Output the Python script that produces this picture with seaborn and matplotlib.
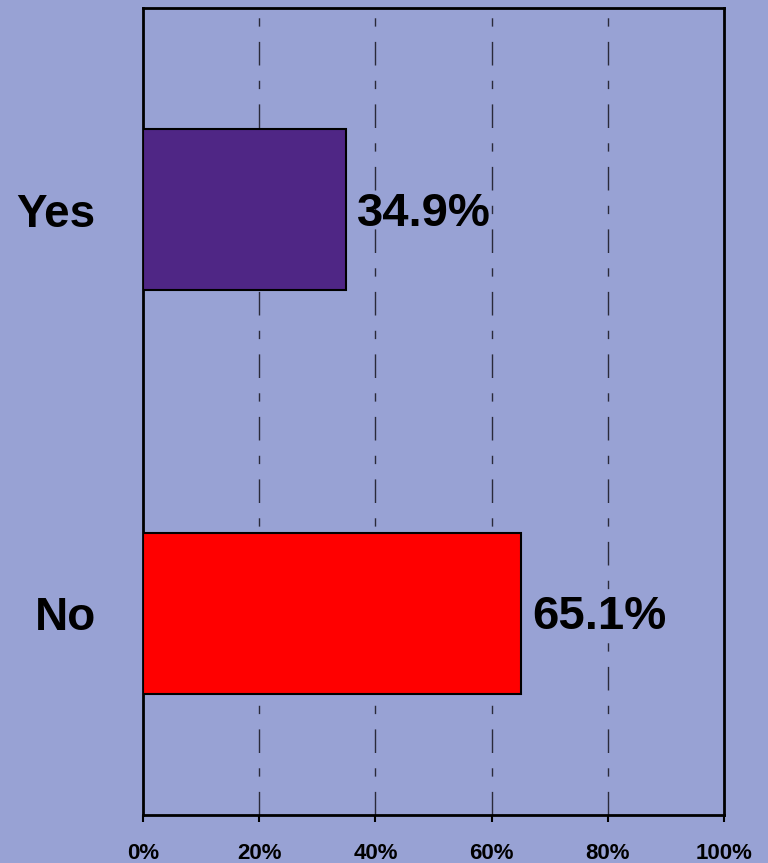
import matplotlib
matplotlib.use("Agg")
import matplotlib.pyplot as plt
import seaborn as sns
import pandas as pd
from matplotlib.ticker import FuncFormatter

categories = ["Yes", "No"]
values = [34.9, 65.1]
bar_colors = ["#4F2685", "#FF0000"]
tick_values = [0, 20, 40, 60, 80, 100]

sns.set_theme(style="ticks")
plt.rcParams["font.family"] = ["Liberation Sans", "DejaVu Sans"]
plt.rcParams["lines.scale_dashes"] = False
plt.rcParams["xtick.bottom"] = True

bg = "#98A2D4"
fig = plt.figure(figsize=(7.68, 8.63), dpi=100, facecolor=bg)
ax = fig.add_axes([143 / 768, 1 - 815 / 863, (724 - 143) / 768, (815 - 8) / 863])
ax.set_facecolor(bg)

df = pd.DataFrame({"answer": categories, "pct": values})
sns.barplot(data=df, x="pct", y="answer", hue="answer", palette=bar_colors,
            saturation=1, orient="h", width=0.4, edgecolor="black", linewidth=1.5,
            legend=False, ax=ax, zorder=3)

ax.set_xlim(0, 100)
ax.set_ylim(1.5, -0.5)
ax.set_xticks(tick_values)
ax.xaxis.set_major_formatter(FuncFormatter(lambda v, p: f"{v:.0f}%"))
for t in tick_values[1:-1]:
    ax.axvline(t, color="#2a2a3a", linewidth=1.0, dashes=(17, 11, 6, 11), zorder=2)

for i, v in enumerate(values):
    ax.text(v + 1.9, i + 0.01, f"{v:.1f}%", va="center", ha="left",
            fontsize=34, fontweight="bold", color="black", zorder=4)

ax.set_xlabel("")
ax.set_ylabel("")
ax.tick_params(axis="x", which="major", length=5, width=1.5, color="black",
               direction="out", bottom=True, pad=15, labelsize=16)
ax.tick_params(axis="y", length=0, pad=34, labelsize=33)
for lab in ax.get_xticklabels() + ax.get_yticklabels():
    lab.set_fontweight("bold")
    lab.set_color("black")
for s in ax.spines.values():
    s.set_visible(True)
    s.set_color("black")
    s.set_linewidth(2)

fig.savefig("out.png", dpi=100, facecolor=bg)
